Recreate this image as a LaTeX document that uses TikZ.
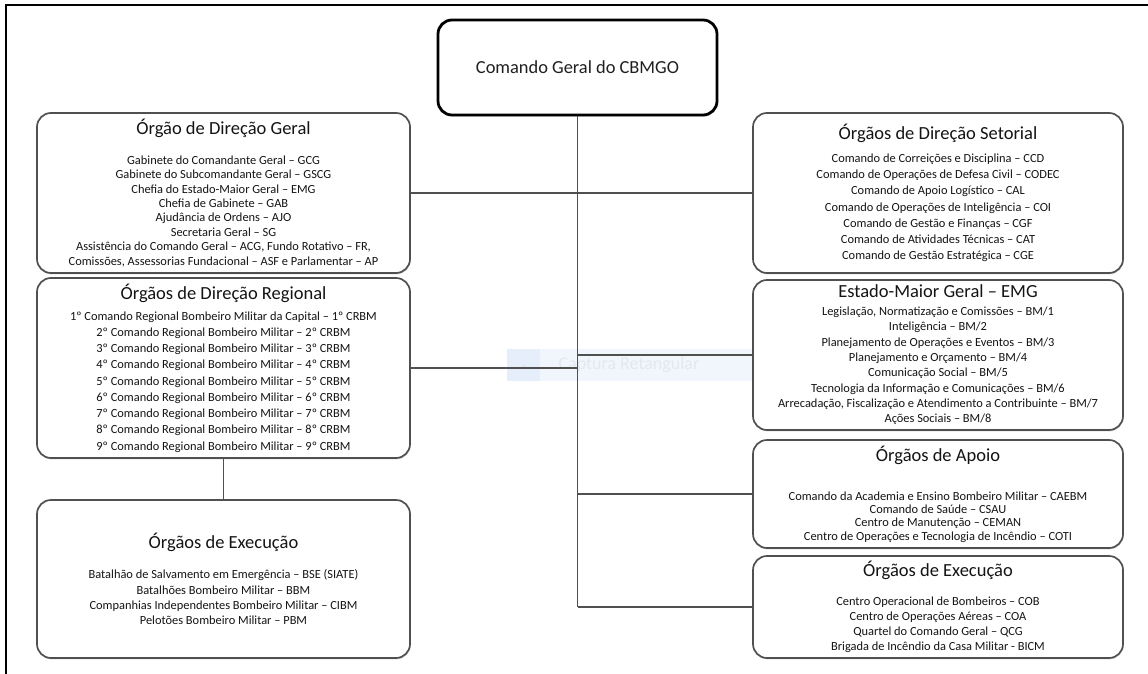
\documentclass[tikz,border=0pt]{standalone}
\usepackage{fontspec}
\setmainfont{Carlito}
\usepackage{tikz}
\usetikzlibrary{shapes,arrows,positioning,shadows}

\definecolor{boxline}{RGB}{80,80,80}
\definecolor{capfill}{RGB}{241,246,253}
\definecolor{capicon}{RGB}{230,238,251}
\definecolor{captext}{RGB}{228,231,238}

\newcommand{\orgtitle}[1]{{\fontsize{18.5}{22}\selectfont #1}}

\begin{document}
\begin{tikzpicture}[x=1pt,y=-1pt]
			\tikzstyle{Org}		= [draw=boxline, line width=1.7pt, rounded corners=14pt, fill=white, align=center, inner sep=0pt, text=black!92, drop shadow={shadow xshift=0.6pt, shadow yshift=-1.4pt, fill=black!30}]
			\tikzstyle{Left}	= [Org, minimum width=373pt]
			\tikzstyle{Right}	= [Org, minimum width=370pt]
			\tikzstyle{Top}		= [draw=black, line width=2.8pt, rounded corners=14pt, fill=white, minimum width=279pt, minimum height=95pt, text=black!88, font=\fontsize{18.4}{22}\selectfont, drop shadow={shadow xshift=0.8pt, shadow yshift=-1.6pt, fill=black!35}]
			\tikzstyle{Link}	= [draw=boxline, line width=1.6pt]
			
			\useasboundingbox (0,0) rectangle (1148,674);
			\draw [line width=2.5pt] (1148,5) -- (6,5) -- (6,674);
			
			% faint screen capture overlay
			\node (captura) at (665,365) [fill=capfill, minimum width=316pt, minimum height=32pt, inner sep=0pt] {};
			\node (capicone) at (523.5,365) [fill=capicon, minimum width=33pt, minimum height=32pt, inner sep=0pt] {};
			\node (capponto) at (523.5,366) [circle, fill=captext, minimum size=4pt, inner sep=0pt] {};
			\node (captexto) at (555,365) [anchor=west, text=captext, font=\fontsize{18}{22}\selectfont] {Captura Retangular};
			
			\node (cmdgeral) at (577.5,67.5) [Top] {Comando Geral do CBMGO};
			
			\node (dirgeral) at (223.5,193) [Left, minimum height=160pt, font=\fontsize{12.4}{14.4}\selectfont] {\orgtitle{Órgão de Direção Geral}\\[15pt]
				Gabinete do Comandante Geral – GCG\\
				Gabinete do Subcomandante Geral – GSCG\\
				Chefia do Estado-Maior Geral – EMG\\
				Chefia de Gabinete – GAB\\
				Ajudância de Ordens – AJO\\
				Secretaria Geral – SG\\
				Assistência do Comando Geral – ACG, Fundo Rotativo – FR,\\
				Comissões, Assessorias Fundacional – ASF e Parlamentar – AP};
			\node (dirregional) at (223.5,368) [Left, minimum height=180pt, font=\fontsize{12.4}{16.25}\selectfont] {\orgtitle{Órgãos de Direção Regional}\\[4.5pt]
				1º Comando Regional Bombeiro Militar da Capital – 1º CRBM\\
				2º Comando Regional Bombeiro Militar – 2º CRBM\\
				3º Comando Regional Bombeiro Militar – 3º CRBM\\
				4º Comando Regional Bombeiro Militar – 4º CRBM\\
				5º Comando Regional Bombeiro Militar – 5º CRBM\\
				6º Comando Regional Bombeiro Militar – 6º CRBM\\
				7º Comando Regional Bombeiro Militar – 7º CRBM\\
				8º Comando Regional Bombeiro Militar – 8º CRBM\\
				9º Comando Regional Bombeiro Militar – 9º CRBM};
			\node (execL) at (223.5,579) [Left, minimum height=158pt, font=\fontsize{12.4}{15.3}\selectfont] {\orgtitle{Órgãos de Execução}\\[15pt]
				Batalhão de Salvamento em Emergência – BSE (SIATE)\\
				Batalhões Bombeiro Militar – BBM\\
				Companhias Independentes Bombeiro Militar – CIBM\\
				Pelotões Bombeiro Militar – PBM};
			
			\node (dirsetorial) at (938,193) [Right, minimum height=160pt, font=\fontsize{12.4}{16.2}\selectfont] {\orgtitle{Órgãos de Direção Setorial}\\[6.5pt]
				Comando de Correições e Disciplina – CCD\\
				Comando de Operações de Defesa Civil – CODEC\\
				Comando de Apoio Logístico – CAL\\
				Comando de Operações de Inteligência – COI\\
				Comando de Gestão e Finanças – CGF\\
				Comando de Atividades Técnicas – CAT\\
				Comando de Gestão Estratégica – CGE};
			\node (emg) at (938,355) [Right, minimum height=150pt, font=\fontsize{12.4}{15.3}\selectfont] {\orgtitle{Estado-Maior Geral – EMG}\\[2.4pt]
				Legislação, Normatização e Comissões – BM/1\\
				Inteligência – BM/2\\
				Planejamento de Operações e Eventos – BM/3\\
				Planejamento e Orçamento – BM/4\\
				Comunicação Social – BM/5\\
				Tecnologia da Informação e Comunicações – BM/6\\
				Arrecadação, Fiscalização e Atendimento a Contribuinte – BM/7\\
				Ações Sociais – BM/8};
			\node (apoio) at (938,494) [Right, minimum height=108pt, font=\fontsize{12.4}{13.3}\selectfont] {\orgtitle{Órgãos de Apoio}\\[26pt]
				Comando da Academia e Ensino Bombeiro Militar – CAEBM\\
				Comando de Saúde – CSAU\\
				Centro de Manutenção – CEMAN\\
				Centro de Operações e Tecnologia de Incêndio – COTI};
			\node (execR) at (938,607) [Right, minimum height=102pt, font=\fontsize{12.4}{15}\selectfont] {\orgtitle{Órgãos de Execução}\\[13.7pt]
				Centro Operacional de Bombeiros – COB\\
				Centro de Operações Aéreas – COA\\
				Quartel do Comando Geral – QCG\\
				Brigada de Incêndio da Casa Militar - BICM};
			
			\draw [-] (cmdgeral.south) to (cmdgeral.south |- execR.west) [Link];
			\draw [-] (dirgeral.east) to (dirsetorial.west) [Link];
			\draw [-] (dirregional.east) to (dirregional.east -| cmdgeral.south) [Link];
			\draw [-] (emg.west) to (emg.west -| cmdgeral.south) [Link];
			\draw [-] (apoio.west) to (apoio.west -| cmdgeral.south) [Link];
			\draw [-] (execR.west) to (execR.west -| cmdgeral.south) [Link];
			\draw [-] (dirregional.south) to (execL.north) [Link];
		\end{tikzpicture}
\end{document}
